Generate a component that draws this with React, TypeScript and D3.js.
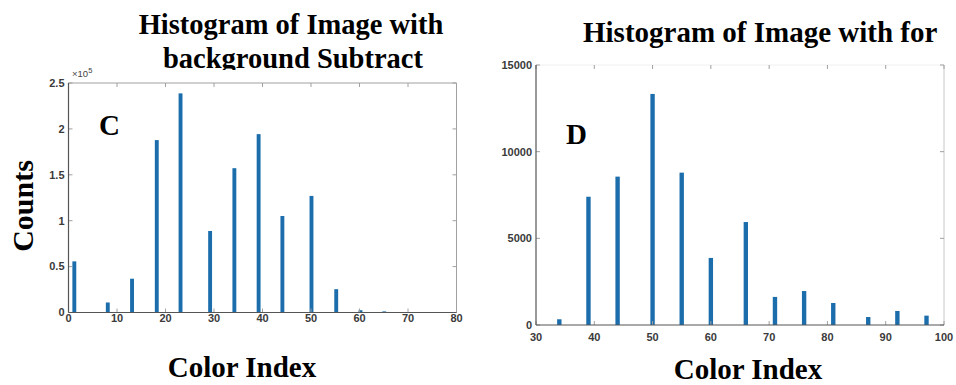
import React from "react";
import * as d3 from "d3";

// Panel C: background subtracted histogram
const leftBins = [1.2, 8.1, 13.1, 18.2, 23.1, 29.2, 34.2, 39.2, 44.1, 50.1, 55.2, 60.2, 65.1];
const leftCounts = [55700, 10900, 36800, 187800, 238700, 88800, 157200, 194300, 105100, 127000, 25400, 2500, 1200];
const leftXTicks = [0, 10, 20, 30, 40, 50, 60, 70, 80];
const leftYTicks = [0, 50000, 100000, 150000, 200000, 250000];
const leftYLabels = ["0", "0.5", "1", "1.5", "2", "2.5"];

// Panel D: foreground histogram
const rightBins = [34, 39, 44, 50, 55, 60, 66, 71, 76, 81, 87, 92, 97];
const rightCounts = [330, 7400, 8560, 13330, 8790, 3870, 5940, 1620, 1960, 1270, 460, 810, 540];
const rightXTicks = [30, 40, 50, 60, 70, 80, 90, 100];
const rightYTicks = [0, 5000, 10000, 15000];
const rightYLabels = ["0", "5000", "10000", "15000"];

const BAR = "#1b6dab";
const AXIS = "#555";
const FRAME = "#a0a0a0";
const TICK_FONT = "'Liberation Sans', Arial, sans-serif";
const SERIF = "'Liberation Serif', 'Times New Roman', serif";

type PanelProps = {
    bins: number[];
    counts: number[];
    xTicks: number[];
    yTicks: number[];
    yLabels: string[];
    xDomain: [number, number];
    yDomain: [number, number];
    xRange: [number, number];
    yRange: [number, number];
    barWidth: number; // in data units
    xLabelY: number;
    topColor: string;
    rightColor: string;
};

function Panel(p: PanelProps) {
    const x = d3.scaleLinear().domain(p.xDomain).range(p.xRange);
    const y = d3.scaleLinear().domain(p.yDomain).range(p.yRange);
    const [x0, x1] = p.xRange;
    const [yb, yt] = p.yRange;
    const tl = 4;

    return (
        <g>
            {/* frame */}
            <line x1={x0} x2={x1} y1={yt} y2={yt} stroke={p.topColor} />
            <line x1={x1} x2={x1} y1={yt} y2={yb} stroke={p.rightColor} />

            {/* bars */}
            {p.bins.map((b, i) => (
                <rect
                    key={i}
                    x={x(b - p.barWidth / 2)}
                    width={x(b + p.barWidth / 2) - x(b - p.barWidth / 2)}
                    y={y(p.counts[i])}
                    height={y(0) - y(p.counts[i])}
                    fill={BAR}
                />
            ))}

            {/* x ticks */}
            {p.xTicks.map(t => (
                <g key={"x" + t}>
                    <line x1={x(t)} x2={x(t)} y1={yb} y2={yb - tl} stroke={FRAME} />
                    <line x1={x(t)} x2={x(t)} y1={yt} y2={yt + tl} stroke={FRAME} />
                    <text x={x(t)} y={p.xLabelY} textAnchor="middle" fontFamily={TICK_FONT}
                        fontSize={11} fontWeight="bold" fill="#3a3a3a">{t}</text>
                </g>
            ))}

            {/* y ticks */}
            {p.yTicks.map((t, i) => (
                <g key={"y" + t}>
                    <line x1={x0} x2={x0 + tl} y1={y(t)} y2={y(t)} stroke={FRAME} />
                    <line x1={x1} x2={x1 - tl} y1={y(t)} y2={y(t)} stroke={FRAME} />
                    <text x={x0 - 4} y={y(t)} dy="0.35em" textAnchor="end" fontFamily={TICK_FONT}
                        fontSize={11} fontWeight="bold" fill="#3a3a3a">{p.yLabels[i]}</text>
                </g>
            ))}

            {/* main axes */}
            <line x1={x0} x2={x1} y1={yb} y2={yb} stroke={AXIS} strokeWidth={1.2} />
            <line x1={x0} x2={x0} y1={yt} y2={yb} stroke={AXIS} strokeWidth={1.2} />
        </g>
    );
}

export default function App() {
    return (
        <div style={{ position: "absolute", left: 0, top: 0 }}>
            <svg width={956} height={385} style={{ display: "block", background: "#fff" }}>
                <defs>
                    <clipPath id="title-clip">
                        <rect x={0} y={0} width={480} height={70} />
                    </clipPath>
                </defs>

                <Panel
                    bins={leftBins}
                    counts={leftCounts}
                    xTicks={leftXTicks}
                    yTicks={leftYTicks}
                    yLabels={leftYLabels}
                    xDomain={[0, 80]}
                    yDomain={[0, 250000]}
                    xRange={[68.5, 456.5]}
                    yRange={[312.5, 83]}
                    barWidth={0.8}
                    xLabelY={322}
                    topColor={FRAME}
                    rightColor={FRAME}
                />
                <text x={72} y={77} fontFamily={TICK_FONT} fontSize={9.5} fill="#444">
                    ×10<tspan dy={-4} fontSize={7.5}>5</tspan>
                </text>

                <Panel
                    bins={rightBins}
                    counts={rightCounts}
                    xTicks={rightXTicks}
                    yTicks={rightYTicks}
                    yLabels={rightYLabels}
                    xDomain={[30, 100]}
                    yDomain={[0, 15000]}
                    xRange={[536, 944]}
                    yRange={[325, 65]}
                    barWidth={0.75}
                    xLabelY={341}
                    topColor="#f0f0f0"
                    rightColor="#c8c8c8"
                />

                {/* titles */}
                <g clipPath="url(#title-clip)" fontFamily={SERIF} fontWeight="bold" fontSize={28.5} fill="#000">
                    <text x={291} y={34} textAnchor="middle">Histogram of Image with</text>
                    <text x={293} y={68} textAnchor="middle">background Subtract</text>
                </g>
                <text x={583} y={42} fontFamily={SERIF} fontWeight="bold" fontSize={29}>Histogram of Image with for</text>

                {/* panel letters */}
                <text x={99} y={135} fontFamily={SERIF} fontWeight="bold" fontSize={29}>C</text>
                <text x={566} y={144} fontFamily={SERIF} fontWeight="bold" fontSize={29}>D</text>

                {/* axis titles */}
                <text transform="translate(33,206) rotate(-90)" textAnchor="middle" fontFamily={SERIF}
                    fontWeight="bold" fontSize={30}>Counts</text>
                <text x={242} y={377} textAnchor="middle" fontFamily={SERIF} fontWeight="bold" fontSize={29}>Color Index</text>
                <text x={748} y={379} textAnchor="middle" fontFamily={SERIF} fontWeight="bold" fontSize={29}>Color Index</text>
            </svg>
        </div>
    );
}
